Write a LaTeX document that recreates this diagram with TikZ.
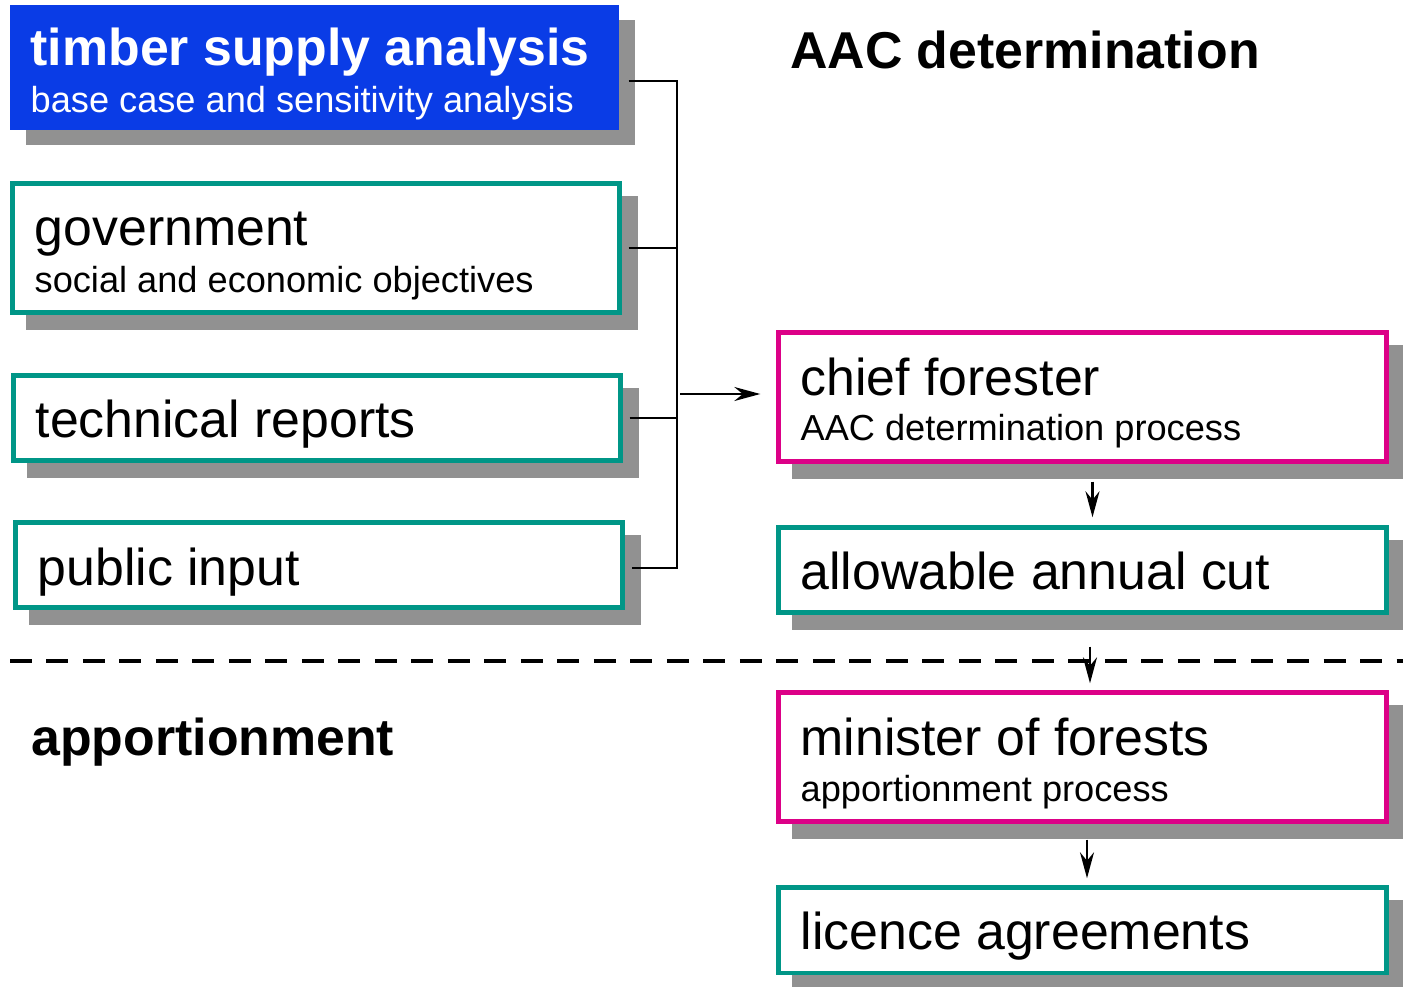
\documentclass[tikz,border=0pt]{standalone}
\usepackage{fontspec}
\setmainfont{Liberation Sans}
\usepackage{xcolor}
\usepackage{tikz}
\usetikzlibrary{positioning, calc}
\usetikzlibrary{shadows, arrows.meta}

\definecolor{tsablue}{RGB}{10,60,230}
\definecolor{boxteal}{RGB}{0,150,135}
\definecolor{boxpink}{RGB}{220,0,135}
\definecolor{shadowgray}{RGB}{145,145,145}

\tikzset{
  box/.style={draw, fill=white, line width=0.09cm, inner sep=0, outer sep=0,
    minimum width=12.15cm,
    drop shadow={shadow xshift=0.32cm, shadow yshift=-0.30cm, fill=shadowgray, draw=shadowgray, opacity=1}},
  tall/.style={minimum height=2.59cm},
  short/.style={minimum height=1.71cm},
  tealbox/.style={box, draw=boxteal},
  pinkbox/.style={box, draw=boxpink, minimum width=12.17cm},
  bluebox/.style={box, draw=tsablue, fill=tsablue},
  maintext/.style={anchor=base west, inner sep=0, font=\fontsize{29.5}{34}\selectfont},
  subtext/.style={anchor=base west, inner sep=0, font=\fontsize{20.6}{24}\selectfont},
  heading/.style={anchor=base west, inner sep=0, font=\bfseries\fontsize{29.5}{34}\selectfont},
  wire/.style={line width=1.5pt},
  arrow/.style={wire, -{Stealth[length=0.52cm, width=0.28cm, inset=0.17cm]}},
  sepline/.style={line width=2.3pt, dash pattern=on 0.44cm off 0.29cm}
}

\begin{document}
\begin{tikzpicture}[x=0.02cm,y=-0.02cm]
\useasboundingbox (0,0) rectangle (1403,987);

% Define nodes
\node[bluebox, minimum width=12.09cm, minimum height=2.41cm] (tsa) at (314.5,67.5) {};
\node[tealbox, tall] (gov) at (316,248) {};
\node[tealbox, short] (tech) at (317,418) {};
\node[tealbox, short] (pub) at (319,565) {};
\node[pinkbox, tall] (chief) at (1082.5,397) {};
\node[tealbox, short, minimum width=12.17cm] (aac) at (1082.5,570) {};
\node[pinkbox, tall] (minister) at (1082.5,757) {};
\node[tealbox, short, minimum width=12.17cm] (lic) at (1082.5,930) {};

% Texts
\node[heading, text=white] (tsa-t) at ([shift={(18,58)}]tsa.north west) {timber supply analysis};
\node[subtext, text=white] (tsa-s) at ([shift={(18,105)}]tsa.north west) {base case and sensitivity analysis};
\node[maintext] (gov-t) at ([shift={(22,62)}]gov.north west) {government};
\node[subtext] (gov-s) at ([shift={(22,109)}]gov.north west) {social and economic objectives};
\node[maintext] (tech-t) at ([shift={(22,62)}]tech.north west) {technical reports};
\node[maintext] (pub-t) at ([shift={(22,63)}]pub.north west) {public input};
\node[maintext] (chief-t) at ([shift={(22,63)}]chief.north west) {chief forester};
\node[subtext] (chief-s) at ([shift={(22,108)}]chief.north west) {AAC determination process};
\node[maintext] (aac-t) at ([shift={(22,62)}]aac.north west) {allowable annual cut};
\node[maintext] (minister-t) at ([shift={(22,63)}]minister.north west) {minister of forests};
\node[subtext] (minister-s) at ([shift={(22,109)}]minister.north west) {apportionment process};
\node[maintext] (lic-t) at ([shift={(22,62)}]lic.north west) {licence agreements};

\node[heading] (aacdet) at (790,68) {AAC determination};
\node[heading] (appor) at (31,755) {apportionment};

% Separator
\coordinate (sepL) at (10,661);
\coordinate (sepR) at (1403,661);
\draw[sepline] (sepL) -- (sepR);

% Connect the nodes
\coordinate (bus) at (677,394);
\coordinate (tsastub) at ([shift={(12,13.5)}]tsa.east);
\coordinate (pubstub) at ([shift={(9,3)}]pub.east);
\draw[wire] (tsastub) -| (pubstub -| bus) -- (pubstub);
\draw[wire] ([shift={(9,0)}]gov.east) -- (gov.east -| bus);
\draw[wire] ([shift={(9,0)}]tech.east) -- (tech.east -| bus);
\draw[arrow, shorten >=0.36cm] ([shift={(3,0)}]bus) -- (bus -| chief.west);
\draw[arrow] ([shift={(10,20)}]chief.south) -- ([shift={(10,-10)}]aac.north);
\draw[arrow] ([shift={(7.5,34)}]aac.south) -- ([shift={(7.5,-9)}]minister.north);
\draw[arrow] ([shift={(4.5,18)}]minister.south) -- ([shift={(4.5,-9)}]lic.north);
\end{tikzpicture}
\end{document}
